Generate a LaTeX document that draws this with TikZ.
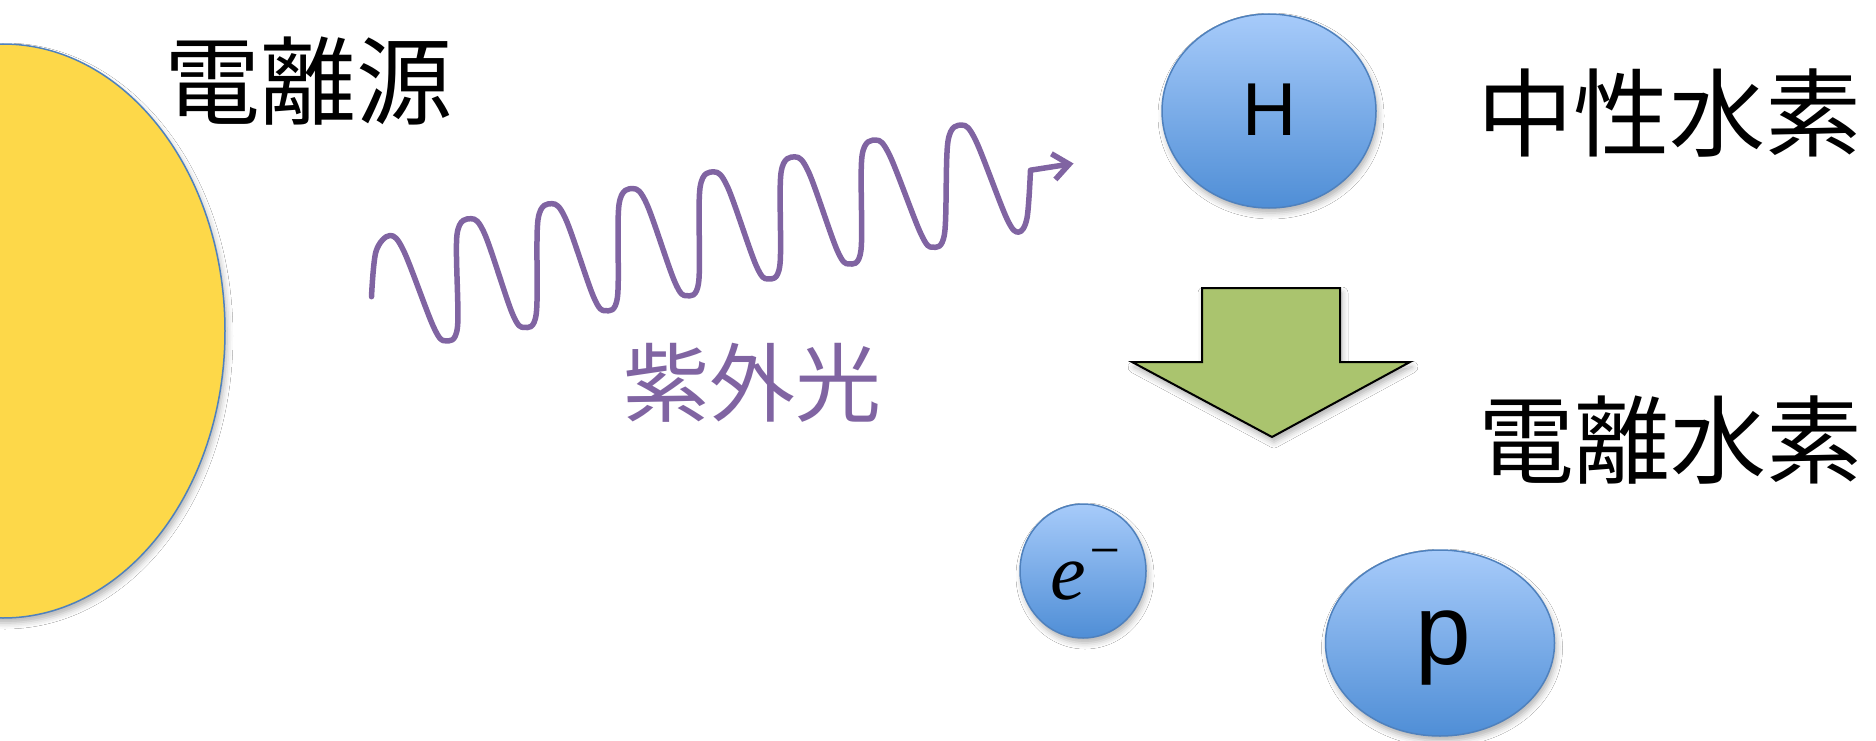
\documentclass[tikz,border=0pt]{standalone}
\usepackage{fontspec}
\newfontfamily\jp{Noto Sans CJK JP}
\newfontfamily\sansA{Liberation Sans}
\newfontfamily\serifT{Liberation Serif}
\usetikzlibrary{shapes.geometric,arrows.meta,shadows.blur}
\definecolor{sunY}{RGB}{253,216,73}
\definecolor{edgeB}{RGB}{79,129,189}
\definecolor{topB}{RGB}{167,203,250}
\definecolor{botB}{RGB}{79,142,214}
\definecolor{grn}{RGB}{170,196,110}
\definecolor{purp}{RGB}{128,100,162}
\begin{document}
\begin{tikzpicture}[x=1pt,y=-1pt,
  shd/.style={blur shadow={shadow xshift=2pt, shadow yshift=-5pt, shadow blur radius=6pt, shadow opacity=30}},
  ball/.style={ellipse, draw=edgeB, line width=1.5pt, top color=topB, bottom color=botB, inner sep=0pt, shd},
  jlabel/.style={inner sep=0pt, font=\jp\fontsize{96pt}{100pt}\selectfont},
  wave/.style={draw=purp, line width=5.5pt, line cap=round, line join=round},
]
\useasboundingbox (0,0) rectangle (1876,741);
\fill[white] (0,0) rectangle (1876,741);

% ionising source
\begin{scope}
\clip (0,0) rectangle (1876,741);
\node[ellipse, draw=edgeB, line width=1.5pt, fill=sunY, minimum width=444pt, minimum height=574pt, inner sep=0pt, shd] (sun) at (3,331) {};
\end{scope}

% labels
\node[jlabel] (lsrc) at (308,81) {電離源};
\node[jlabel] (lneu) at (1669,113) {中性水素};
\node[jlabel] (lion) at (1670,440) {電離水素};
\node[jlabel, text=purp, font=\jp\fontsize{86pt}{90pt}\selectfont] (luv) at (752,383) {紫外光};

% green block arrow
\draw[fill=grn, line width=2pt, line join=miter, shd] (1202,288) -- (1340,288) -- (1340,362) -- (1410,362) -- (1272,437) -- (1132,362) -- (1202,362) -- cycle;

% particles
\node[ball, minimum width=214pt, minimum height=194pt] (H) at (1269,111) {};
\node[font=\sansA\fontsize{75pt}{75pt}\selectfont, inner sep=0pt] (Htxt) at (1270,110) {H};
\node[ball, minimum width=126pt, minimum height=134pt] (elec) at (1083,571) {};
\node[inner sep=0pt, anchor=base west, font=\serifT\fontsize{80pt}{80pt}\selectfont] (etxt) at (1050,599) {\itshape e\kern1pt\raisebox{31pt}{\fontsize{54pt}{54pt}\selectfont −}};
\node[ball, minimum width=229pt, minimum height=186pt] (prot) at (1440,643) {};
\node[font=\sansA\fontsize{100pt}{100pt}\selectfont, inner sep=0pt] (ptxt) at (1443,648) {p};

% ultraviolet photon
\coordinate (w0) at (371.5,296.7);
\coordinate (wtip) at (1073.5,163.5);
\draw[wave, -{Straight Barb[length=16pt,width=26pt]}] (w0) -- plot[smooth, tension=0.55] coordinates {
  (371.5,296.7) (376,251.5) (390,235.5) (404,251.5)
  (433.5,326.8) (445.5,340.8) (457.5,326.8)
  (457,234.7) (471,218.7) (485,234.7)
  (512.3,313.4) (524.3,327.4) (536.3,313.4)
  (538,219.7) (552,203.7) (566,219.7)
  (593.5,296.7) (605.5,310.7) (617.5,296.7)
  (619,204.6) (633,188.6) (647,204.6)
  (674.7,281.7) (686.7,295.7) (698.7,281.7)
  (700,187.9) (714,171.9) (728,187.9)
  (755.9,264.9) (767.9,278.9) (779.9,264.9)
  (781,172.9) (795,156.9) (809,172.9)
  (837,249.9) (849,263.9) (861,249.9)
  (862,156.1) (876,140.1) (890,156.1)
  (920.6,233.2) (932.6,247.2) (944.6,233.2)
  (948,141.1) (962,125.1) (976,141.1)
  (1006.6,218.1) (1018.6,232.1) (1027,218)
  (1030.5,170.2)}
  -- (wtip);
\end{tikzpicture}
\end{document}
